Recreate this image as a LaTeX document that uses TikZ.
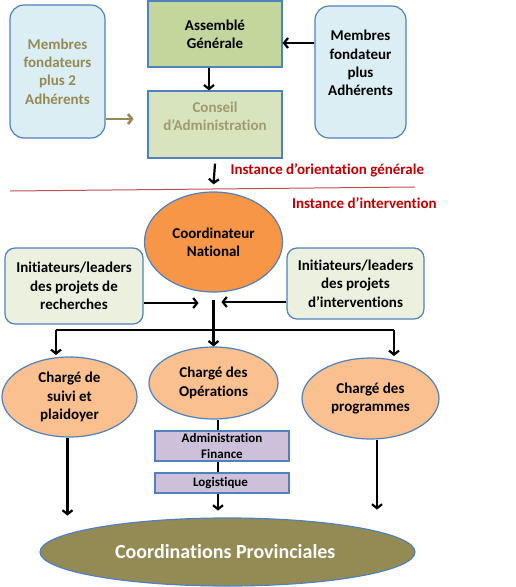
\documentclass[tikz,border=0pt]{standalone}
\usepackage{fontspec}
\setmainfont{Carlito}[Ligatures=NoCommon]
\usepackage{tikz}
\usetikzlibrary{arrows.meta,positioning,calc,shapes.geometric}
\definecolor{bluebord}{HTML}{4F81BD}
\definecolor{skyfill}{HTML}{DBEEF4}
\definecolor{agfill}{HTML}{C3D69B}
\definecolor{cafill}{HTML}{D7E4BD}
\definecolor{leadfill}{HTML}{EBF1DE}
\definecolor{coordfill}{HTML}{F79646}
\definecolor{chargefill}{HTML}{FAC090}
\definecolor{admfill}{HTML}{CCC0DA}
\definecolor{olivetxt}{HTML}{948A54}
\definecolor{catxt}{HTML}{A09A72}
\definecolor{instred}{HTML}{C00000}
\definecolor{sepline}{HTML}{C0504D}
\tikzset{
  txt/.style={align=center, inner sep=0pt, font=\bfseries\fontsize{15}{18.3}\selectfont},
  box/.style={txt, draw=bluebord, line width=1.2pt},
  rbox/.style={box, rounded corners=14pt},
  oval/.style={box, ellipse},
  arr/.style={-{Straight Barb[length=4pt,width=10pt]}, line width=2.2pt},
  conn/.style={line width=1.4pt},
}

\begin{document}
\begin{tikzpicture}[x=1pt, y=-1pt]
    \useasboundingbox (0,0) rectangle (515,587);

    % instance d'orientation
    \node [rbox, fill=skyfill, text=olivetxt, minimum width=95pt, minimum height=133pt] (mfa) at (57.5,71.5) { Membres\\fondateurs\\plus 2\\Adhérents };
    \node [box, fill=agfill, minimum width=134pt, minimum height=66pt] (ag) at (215,34) { Assemblé\\Générale };
    \node [box, fill=cafill, minimum width=134pt, minimum height=67pt] (ca) at (215,124.5) {};
    \node [txt, text=catxt] (catext) at (215,116) { Conseil\\d’Administration };
    \node [rbox, fill=skyfill, minimum width=91pt, minimum height=132pt] (mfd) at (360.5,72) {};
    \node [txt] (mfdtext) at (360.5,63) { Membres\\fondateur\\plus\\Adhérents };

    \draw [arr] ([yshift=29pt]mfd.west) -- ([yshift=29pt]mfd.west -| ag.east);
    \draw [arr] ([xshift=-6pt]ag.south) -- ([xshift=-6pt]ca.north);
    \draw [arr, olivetxt, line width=2.6pt] ([yshift=-47.5pt]mfa.east) -- ++(28,0);

    \node [txt, text=instred] (orient) at (329,170) { Instance d’orientation générale };
    \draw [sepline, line width=1pt] (10,191) -- (415,187);
    \node [txt, text=instred] (interv) at (366,203) { Instance d’intervention };

    % instance d'intervention
    \node [oval, fill=coordfill, minimum width=138pt, minimum height=100pt] (coord) at (213.5,242) { Coordinateur\\National };
    \draw [arr] ([yshift=-5pt]ca.south) -- ([yshift=7pt]coord.north);

    \node [box, rounded corners=10pt, fill=leadfill, minimum width=138pt, minimum height=76pt] (ilr) at (74,286) { Initiateurs/leaders\\des projets de\\recherches };
    \node [box, rounded corners=10pt, fill=leadfill, minimum width=137pt, minimum height=71pt] (ili) at (355.5,283.5) { Initiateurs/leaders\\des projets\\d’interventions };
    \draw [arr] ([yshift=-17pt]ilr.east) -- ++(55,0);
    \draw [arr] ([yshift=-18.5pt]ili.west) -- ++(-65,0);

    \node [oval, fill=chargefill, minimum width=135pt, minimum height=80pt] (suivi) at (69.5,397) { Chargé de\\suivi et\\plaidoyer };
    \node [oval, fill=chargefill, minimum width=129pt, minimum height=72pt] (ops) at (213.5,383) { Chargé des\\Opérations };
    \node [oval, fill=chargefill, minimum width=137pt, minimum height=81pt] (prog) at (370.5,398.5) { Chargé des\\programmes };

    \draw [arr] ([yshift=-7pt]coord.south) -- (ops.north);
    \coordinate (hleft) at (56,330);
    \coordinate (hright) at (394,330);
    \draw [conn] (hleft) -- (hright);
    \draw [arr] (hleft) -- ++(0,25);
    \draw [arr] (hright) -- ++(0,26);

    \node [box, fill=admfill, minimum width=134pt, minimum height=30pt, font=\bfseries\fontsize{13}{16}\selectfont] (admfin) at (222,446) { Administration\\Finance };
    \node [box, fill=admfill, minimum width=134pt, minimum height=20pt, font=\bfseries\fontsize{13}{16}\selectfont] (logi) at (222,483) { Logistique };
    \draw [conn, line width=2.2pt] ([xshift=-4pt]admfin.north |- ops.south) -- ([xshift=-4pt]admfin.north);
    \draw [conn, line width=2.2pt] ([xshift=-4pt]admfin.south) -- ([xshift=-4pt]logi.north);

    \node [oval, fill=olivetxt, text=white, minimum width=375pt, minimum height=68pt, font=\bfseries\fontsize{20}{24}\selectfont] (prov) at (227.5,552) { Coordinations Provinciales };
    \draw [arr] ([xshift=-4pt]logi.south) -- ++(0,17);
    \draw [arr] ([xshift=-2pt]suivi.south) -- ++(0,78);
    \draw [arr] ([xshift=6.5pt]prog.south) -- ++(0,70);
\end{tikzpicture}
\end{document}
